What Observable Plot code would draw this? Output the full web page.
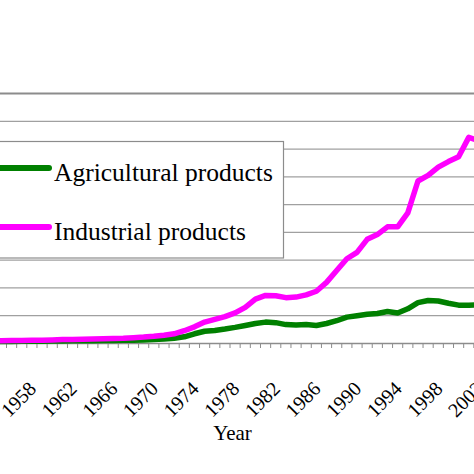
<!DOCTYPE html>
<html><head><meta charset="utf-8">
<script src="https://cdn.jsdelivr.net/npm/d3@7"></script>
<script src="https://cdn.jsdelivr.net/npm/@observablehq/plot@0.6"></script>
<style>
body{margin:0;background:white}
#chart{position:relative;width:474px;height:474px;overflow:hidden;background:white}
</style>
</head><body><div id="chart"></div>
<script>
const series = ["Agricultural products", "Industrial products"];
const colors = ["#008000", "#ff00ff"];
const years = [1950,1951,1952,1953,1954,1955,1956,1957,1958,1959,1960,1961,1962,1963,1964,1965,1966,1967,1968,1969,1970,1971,1972,1973,1974,1975,1976,1977,1978,1979,1980,1981,1982,1983,1984,1985,1986,1987,1988,1989,1990,1991,1992,1993,1994,1995,1996,1997,1998,1999,2000,2001,2002];
const agricultural = [0.6,0.6,0.6,0.7,0.7,0.7,0.7,0.8,0.8,0.8,0.9,0.9,1.0,1.0,1.0,1.1,1.1,1.2,1.2,1.3,1.4,1.6,1.9,2.4,3.5,4.4,4.7,5.2,5.8,6.5,7.2,7.7,7.5,6.8,6.7,6.8,6.5,7.2,8.2,9.5,10.0,10.5,10.8,11.5,11.0,12.5,14.7,15.5,15.3,14.5,13.8,13.8,13.9];
const industrial = [0.8,0.8,0.9,0.9,1.0,1.0,1.1,1.1,1.2,1.2,1.3,1.4,1.4,1.5,1.6,1.7,1.8,1.9,2.1,2.3,2.6,3.0,3.5,4.6,6.0,7.7,8.7,9.7,11.0,13.0,16.0,17.3,17.2,16.5,16.7,17.5,18.8,22.0,26.3,30.5,32.8,37.5,39.2,42.0,42.0,47.0,58.5,60.5,63.5,65.5,67.2,74.2,73.0];
const labelYears = [1958,1962,1966,1970,1974,1978,1982,1986,1990,1994,1998,2002];
const gridValues = [10,20,30,40,50,60,70,80];

const rows = [];
[agricultural, industrial].forEach((vals, i) => {
  years.forEach((yr, j) => rows.push({series: series[i], year: yr, value: vals[j]}));
});
const boundaries = years.slice(0, -1).map(y => y + 0.5).filter(b => b >= 1955.5);

const serif = "'Liberation Serif', 'Times New Roman', serif";

const plot = Plot.plot({
  width: 474, height: 474,
  marginTop: 93, marginBottom: 131, marginLeft: 0, marginRight: 0,
  x: {domain: [1955.5, 2002.5], range: [6, 483.5]},
  y: {domain: [0, 90], axis: null},
  color: {domain: series, range: colors},
  style: {fontFamily: serif, background: "white", color: "black", overflow: "hidden"},
  marks: [
    Plot.ruleY(gridValues, {stroke: "#a0a0a0", strokeWidth: 1.2}),
    Plot.ruleY([90], {stroke: "#8c8c8c", strokeWidth: 2}),
    Plot.ruleY([0], {stroke: "#8c8c8c", strokeWidth: 1.5}),
    Plot.axisX({ticks: boundaries, tickSize: 5, tickFormat: () => "", stroke: "#8c8c8c", label: null}),
    Plot.text(labelYears, {x: d => d, text: d => String(d), frameAnchor: "bottom", rotate: -45, textAnchor: "end", lineAnchor: "middle", dx: 1, dy: 42, fontSize: 20, fill: "black"}),
    Plot.text(["Year"], {frameAnchor: "bottom", dy: 96, dx: -5, fontSize: 21, fill: "black"}),
    Plot.line(rows, {x: "year", y: "value", z: "series", stroke: "series", strokeWidth: 5.5, strokeLinejoin: "round", strokeLinecap: "round"})
  ]
});
document.getElementById("chart").appendChild(plot);

// Legend overlay
const leg = d3.select("#chart").append("svg")
  .style("position", "absolute").style("left", "0px").style("top", "0px")
  .attr("width", 474).attr("height", 474);
leg.append("rect").attr("x", -5).attr("y", 141.5).attr("width", 288.5).attr("height", 116.5)
  .attr("fill", "white").attr("stroke", "#8c8c8c").attr("stroke-width", 1.2);
series.forEach((s, i) => {
  const cy = 168 + i * 59;
  leg.append("line").attr("x1", -10).attr("x2", 49).attr("y1", cy).attr("y2", cy)
    .attr("stroke", colors[i]).attr("stroke-width", 6).attr("stroke-linecap", "round");
  leg.append("text").attr("x", 54).attr("y", cy + 12.5)
    .style("font-family", serif).style("font-size", "25.5px").attr("fill", "black").text(s);
});
</script>
</body></html>
